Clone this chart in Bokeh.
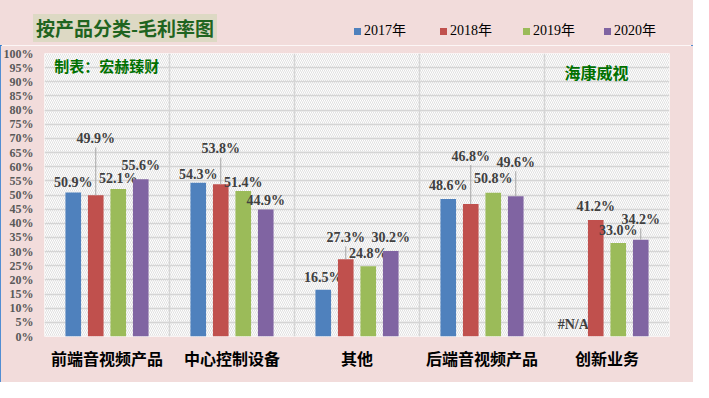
import math
from bokeh.plotting import figure
from bokeh.layouts import column
from bokeh.models import (Range1d, FixedTicker, NumeralTickFormatter, BoxAnnotation, Label, Div)
from bokeh.core.properties import value
from bokeh.embed import file_html
from bokeh.resources import INLINE

# ---------------- data ----------------
categories = ["前端音视频产品", "中心控制设备", "其他", "后端音视频产品", "创新业务"]
years = ["2017年", "2018年", "2019年", "2020年"]
margin_2017 = [0.509, 0.543, 0.165, 0.486, float("nan")]
margin_2018 = [0.499, 0.538, 0.273, 0.468, 0.412]
margin_2019 = [0.521, 0.514, 0.248, 0.508, 0.330]
margin_2020 = [0.556, 0.449, 0.302, 0.496, 0.342]
series = [margin_2017, margin_2018, margin_2019, margin_2020]
y_ticks = [i / 20 for i in range(21)]
title_text = "按产品分类-毛利率图"

# ---------------- styling / layout ----------------
colors = ["#4F81BD", "#C0504D", "#9BBB59", "#8064A2"]
group_offsets = [-0.27, -0.09, 0.09, 0.27]
bar_width = 0.125
label_lift = [
    [0.034, 0.031, 0.044, 0.046, 0.044],
    [0.200, 0.125, 0.076, 0.169, 0.046],
    [0.037, 0.031, 0.047, 0.051, 0.046],
    [0.047, 0.032, 0.047, 0.119, 0.071],
]
leader_gap = 0.031
legend_x = [354, 440, 523, 604]      # header layout, in header pixels
BG = "#F2DCDB"
GRID = "#D6D6D6"
SERIF = "Liberation Serif"
CJK = "Noto Sans CJK SC"

W = 693
HEAD_H = 45
MAIN_H = 382 - HEAD_H

# ---------------- header (title + legend) ----------------
parts = [
    f'<div style="position:absolute;left:33px;top:14px;height:28px;line-height:28px;'
    f'padding:0 3px;background:#DDD9C4;color:#1F6420;font-weight:bold;font-size:19px;'
    f'font-family:\'{CJK}\';white-space:nowrap">{title_text}</div>'
]
for lx, yr, c in zip(legend_x, years, colors):
    parts.append(f'<div style="position:absolute;left:{lx}px;top:28px;width:7px;height:7px;'
                 f'background:{c}"></div>')
    parts.append(f'<div style="position:absolute;left:{lx + 10}px;top:22px;line-height:18px;'
                 f'font-size:14px;color:black;font-family:\'{SERIF}\',\'{CJK}\';'
                 f'white-space:nowrap">{yr}</div>')
head = Div(text=f'<div style="position:relative;width:{W}px;height:{HEAD_H}px;'
                f'background:{BG};margin:0;padding:0">' + "".join(parts) + '</div>',
           width=W, height=HEAD_H, margin=0,
           styles={"background": BG})

# ---------------- main chart ----------------
p = figure(width=W, height=MAIN_H, output_backend="svg", toolbar_location=None,
           x_range=Range1d(0, len(categories)), y_range=Range1d(0, 1))
p.min_border_left = 44
p.min_border_right = 24
p.min_border_top = 8
p.min_border_bottom = 46
p.border_fill_color = BG
p.background_fill_color = "white"
p.outline_line_color = None

p.add_layout(BoxAnnotation(level="underlay", fill_alpha=0, line_color=None,
                           hatch_pattern="left_diagonal_line", hatch_color="#D3D3D3",
                           hatch_scale=4, hatch_weight=0.7))

p.yaxis.ticker = FixedTicker(ticks=y_ticks)
p.yaxis.formatter = NumeralTickFormatter(format="0%")
p.yaxis.axis_line_color = None
p.yaxis.major_tick_line_color = None
p.yaxis.minor_tick_line_color = None
p.yaxis.major_tick_out = 0
p.yaxis.major_label_standoff = 11
p.yaxis.major_label_text_font = SERIF
p.yaxis.major_label_text_font_style = "bold"
p.yaxis.major_label_text_font_size = "12px"
p.yaxis.major_label_text_color = "#595959"

p.xaxis.ticker = FixedTicker(ticks=[i + 0.5 for i in range(len(categories))])
p.xaxis.major_label_overrides = {i + 0.5: c for i, c in enumerate(categories)}
p.xaxis.axis_line_color = None
p.xaxis.major_tick_line_color = None
p.xaxis.minor_tick_line_color = None
p.xaxis.major_tick_out = 0
p.xaxis.major_label_standoff = 9
p.xaxis.major_label_text_font = CJK
p.xaxis.major_label_text_font_style = "bold"
p.xaxis.major_label_text_font_size = "16px"
p.xaxis.major_label_text_color = "black"

p.ygrid.ticker = FixedTicker(ticks=y_ticks)
p.xgrid.ticker = FixedTicker(ticks=list(range(len(categories) + 1)))
for g in (p.xgrid, p.ygrid):
    g.grid_line_color = GRID
    g.grid_line_width = 1.5

for k, vals in enumerate(series):
    xs = [i + 0.5 + group_offsets[k] for i in range(len(categories))]
    p.vbar(x=xs, top=vals, width=bar_width, fill_color=colors[k], line_color=None)

    lx, ly, lt = [], [], []
    sx0, sy0, sy1 = [], [], []
    for i, v in enumerate(vals):
        base = 0.0 if math.isnan(v) else v
        lx.append(xs[i])
        ly.append(base + label_lift[k][i])
        lt.append("#N/A" if math.isnan(v) else f"{v * 100:.1f}%")
        if not math.isnan(v) and label_lift[k][i] > 0.06:
            sx0.append(xs[i]); sy0.append(v); sy1.append(v + label_lift[k][i] - leader_gap)
    if sx0:
        p.segment(x0=sx0, y0=sy0, x1=sx0, y1=sy1, line_color="#A6A6A6", line_width=1)
    p.text(x=lx, y=ly, text=lt, text_font=value(SERIF), text_font_style="bold",
           text_font_size="14px", text_color="#404040", text_align="center",
           text_baseline="middle")

p.add_layout(Label(x=0.078, y=0.957, text="制表：宏赫臻财", text_font=CJK,
                   text_font_size="15px", text_font_style="bold", text_color="#007000",
                   text_baseline="middle", text_align="left"))
p.add_layout(Label(x=4.416, y=0.933, text="海康威视", text_font=CJK,
                   text_font_size="16px", text_font_style="bold", text_color="#007000",
                   text_baseline="middle", text_align="center"))

layout = column(head, p, spacing=0,
                styles={"outline": "2px solid #1B75D0", "outline-offset": "-2px"})
open("out.html", "w").write(file_html(layout, INLINE))
